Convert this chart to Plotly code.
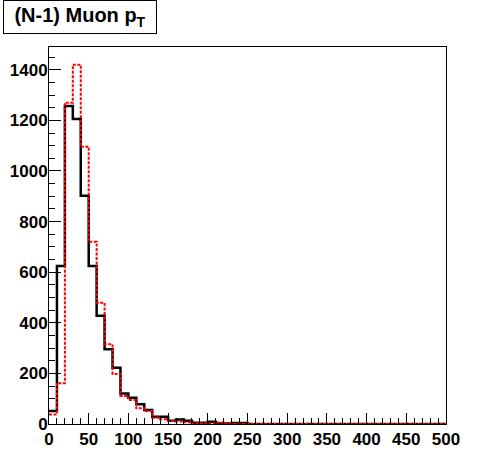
import numpy as np
import plotly.graph_objects as go

bin_width = 10
bin_edges = list(range(0, 510, bin_width))

# Black solid histogram (counts per 10 GeV bin, 0-500)
black_counts = [51, 624, 1257, 1205, 902, 624, 428, 295, 222, 121,
                104, 78, 55, 29, 29, 13, 18, 13, 5, 5,
                9, 2, 2, 4, 4] + [0] * 25

# Red dotted histogram
red_counts = [38, 161, 1270, 1420, 1096, 720, 479, 315, 198, 111,
              95, 62, 51, 25, 19, 12, 10, 7, 2, 3,
              2, 6, 2, 1, 1] + [0] * 25

x_ticks = list(range(0, 550, 50))
y_ticks = list(range(0, 1600, 200))
title_text = "(N-1) Muon p<sub>T</sub>"

fig = go.Figure()
fig.add_trace(go.Scatter(
    x=bin_edges, y=black_counts + [black_counts[-1]],
    mode="lines", line=dict(color="black", width=2.5, shape="hv"),
    showlegend=False, hoverinfo="skip"))
fig.add_trace(go.Scatter(
    x=bin_edges, y=red_counts + [red_counts[-1]],
    mode="lines", line=dict(color="#ff0000", width=2, shape="hv", dash="3px,1.5px"),
    showlegend=False, hoverinfo="skip"))

tickfont = dict(family="Liberation Sans, Arial, sans-serif", size=17, color="black", weight="bold")

fig.update_layout(
    width=496, height=472,
    margin=dict(l=49, r=50, t=47, b=48, autoexpand=False),
    paper_bgcolor="white", plot_bgcolor="white",
    xaxis=dict(range=[0, 500], tickvals=x_ticks, ticks="inside", ticklen=11,
               tickcolor="black", tickwidth=1, automargin=False,
               showline=True, linecolor="black", linewidth=1, mirror=True,
               showgrid=False, zeroline=False, tickfont=tickfont,
               minor=dict(dtick=10, ticks="inside", ticklen=6, tickcolor="black",
                          tickwidth=1, showgrid=False)),
    yaxis=dict(range=[0, 1490], tickvals=y_ticks, ticks="inside", ticklen=12,
               tickcolor="black", tickwidth=1, automargin=False,
               ticklabelstandoff=-3,
               showline=True, linecolor="black", linewidth=1, mirror=True,
               showgrid=False, zeroline=False, tickfont=tickfont,
               minor=dict(dtick=50, ticks="inside", ticklen=6, tickcolor="black",
                          tickwidth=1, showgrid=False)),
    annotations=[dict(
        text=title_text, xref="paper", yref="paper",
        x=-0.116, y=1.125, xanchor="left", yanchor="top",
        showarrow=False, align="center",
        width=152, height=32, borderpad=0,
        bordercolor="black", borderwidth=1, bgcolor="white",
        font=dict(family="Liberation Sans, Arial, sans-serif", size=20,
                  color="black", weight="bold"))],
)

fig.write_html("out.html",
               config={"displayModeBar": False, "staticPlot": True},
               post_script="document.body.style.margin='0';document.body.style.padding='0';document.body.style.overflow='hidden';")
